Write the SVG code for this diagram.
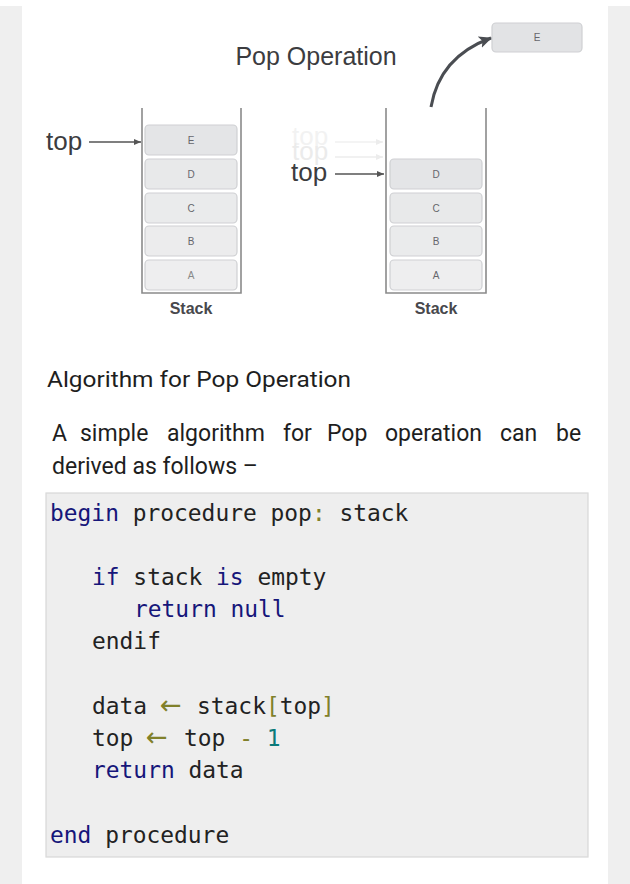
<svg xmlns="http://www.w3.org/2000/svg" width="630" height="884" viewBox="0 0 630 884">
<style>
.cell{fill:#e4e5e7;stroke:#cfd0d3;stroke-width:1.2}
.cl{font-family:"Liberation Sans",Arial,sans-serif;font-size:10px;fill:#66666c;text-anchor:middle}
.wall{fill:none;stroke:#8a8a8a;stroke-width:1.6}
.lbl{font-family:"Liberation Sans",Arial,sans-serif;fill:#3c3c40}
.body{font-family:Roboto,"Liberation Sans",sans-serif;fill:#1e1e1e}
.code{font-family:"DejaVu Sans Mono",monospace;font-size:22.9px;fill:#222}
.kw{fill:#16167a}
.op{fill:#80802a}
.arr{fill:#80802a;font-family:"DejaVu Sans",sans-serif;font-size:26px}
.num{fill:#0a7a7a}
.conn{fill:none;stroke:#555;stroke-width:1.4}
</style>
<defs>
<marker id="ah" markerWidth="8" markerHeight="8" refX="7" refY="4" orient="auto" markerUnits="userSpaceOnUse"><path d="M0,1 L7,4 L0,7 Z" fill="#555"/></marker>
<marker id="ahf" markerWidth="8" markerHeight="8" refX="7" refY="4" orient="auto" markerUnits="userSpaceOnUse"><path d="M0,1 L7,4 L0,7 Z" fill="#ececec"/></marker>
<marker id="big" markerWidth="16" markerHeight="16" refX="12" refY="8" orient="auto" markerUnits="userSpaceOnUse"><path d="M0,2 L13,8 L0,14 L3,8 Z" fill="#4a4d52"/></marker>
</defs>
<rect width="630" height="884" fill="#ffffff"/>
<rect x="0" y="6" width="22" height="878" fill="#efefef"/>
<rect x="608" y="6" width="22" height="878" fill="#efefef"/>
<text class="lbl" x="316" y="65" font-size="25" text-anchor="middle">Pop Operation</text>
<g id="stack1">
<path class="wall" d="M142,108 V293 H241 V108"/>
<rect class="cell" x="145" y="125" width="92" height="30" rx="4"/><text class="cl" x="191" y="144">E</text>
<rect class="cell" x="145" y="159" width="92" height="30" rx="4" style="fill:#e8e9ea"/><text class="cl" x="191" y="178">D</text>
<rect class="cell" x="145" y="193" width="92" height="30" rx="4" style="fill:#eaebec"/><text class="cl" x="191" y="212">C</text>
<rect class="cell" x="145" y="226" width="92" height="30" rx="4" style="fill:#ececed"/><text class="cl" x="191" y="245">B</text>
<rect class="cell" x="145" y="260" width="92" height="30" rx="4" style="fill:#eeeeef"/><text class="cl" x="191" y="279" style="fill:#888">A</text>
<text class="lbl" x="191" y="314" font-size="16" text-anchor="middle" font-weight="bold" style="fill:#48484c">Stack</text>
</g>
<g id="stack2">
<path class="wall" d="M386,108 V293 H486 V108"/>
<rect class="cell" x="390" y="159" width="92" height="30" rx="4"/><text class="cl" x="436" y="178">D</text>
<rect class="cell" x="390" y="193" width="92" height="30" rx="4" style="fill:#e8e9ea"/><text class="cl" x="436" y="212">C</text>
<rect class="cell" x="390" y="226" width="92" height="30" rx="4" style="fill:#eaebec"/><text class="cl" x="436" y="245">B</text>
<rect class="cell" x="390" y="260" width="92" height="30" rx="4" style="fill:#eeeeef"/><text class="cl" x="436" y="279">A</text>
<text class="lbl" x="436" y="314" font-size="16" text-anchor="middle" font-weight="bold" style="fill:#48484c">Stack</text>
</g>
<g id="popped">
<rect class="cell" x="492" y="23" width="90" height="29" rx="4" style="fill:#e2e3e5"/><text class="cl" x="537" y="41">E</text>
</g>
<g id="top-labels">
<text class="lbl" x="46" y="150" font-size="26">top</text>
<text class="lbl" x="292" y="145" font-size="26" style="fill:#f2f2f2">top</text>
<text class="lbl" x="292" y="160" font-size="26" style="fill:#ebebeb">top</text>
<text class="lbl" x="291" y="181" font-size="26">top</text>
</g>
<g id="connectors">
<line class="conn" x1="89" y1="142" x2="141" y2="142" marker-end="url(#ah)"/>
<line x1="335" y1="142" x2="383" y2="142" stroke="#f0f0f0" stroke-width="1.4" marker-end="url(#ahf)"/>
<line x1="335" y1="157" x2="383" y2="157" stroke="#ececec" stroke-width="1.4" marker-end="url(#ahf)"/>
<line class="conn" x1="335" y1="174" x2="384" y2="174" marker-end="url(#ah)"/>
<path d="M431,107 C437,72 458,50 491,38" fill="none" stroke="#4a4d52" stroke-width="3" marker-end="url(#big)"/>
</g>
<text class="body" x="47" y="387" font-size="22" textLength="304" lengthAdjust="spacingAndGlyphs">Algorithm for Pop Operation</text>
<text class="body" y="441" font-size="23"><tspan x="52">A</tspan><tspan x="80">simple</tspan><tspan x="167">algorithm</tspan><tspan x="283">for</tspan><tspan x="327">Pop</tspan><tspan x="385">operation</tspan><tspan x="500">can</tspan><tspan x="556">be</tspan></text>
<text class="body" x="52" y="474" font-size="23">derived as follows –</text>
<g id="code">
<rect x="46" y="493" width="542" height="364" fill="#eeeeee" stroke="#d8d8d8" stroke-width="1.2"/>
<text class="code" x="50" y="521"><tspan class="kw">begin</tspan> procedure pop<tspan class="op">:</tspan> stack</text>
<text class="code" x="92" y="585"><tspan class="kw">if</tspan> stack <tspan class="kw">is</tspan> empty</text>
<text class="code" x="134" y="617"><tspan class="kw">return</tspan> <tspan class="kw">null</tspan></text>
<text class="code" x="92" y="649">endif</text>
<text class="code" x="92" y="714">data<tspan class="arr" x="160">←</tspan><tspan x="197">stack</tspan><tspan class="op">[</tspan>top<tspan class="op">]</tspan></text>
<text class="code" x="92" y="746">top<tspan class="arr" x="146">←</tspan><tspan x="184">top </tspan><tspan class="op">-</tspan> <tspan class="num">1</tspan></text>
<text class="code" x="92" y="778"><tspan class="kw">return</tspan> data</text>
<text class="code" x="50" y="843"><tspan class="kw">end</tspan> procedure</text>
</g>
</svg>
